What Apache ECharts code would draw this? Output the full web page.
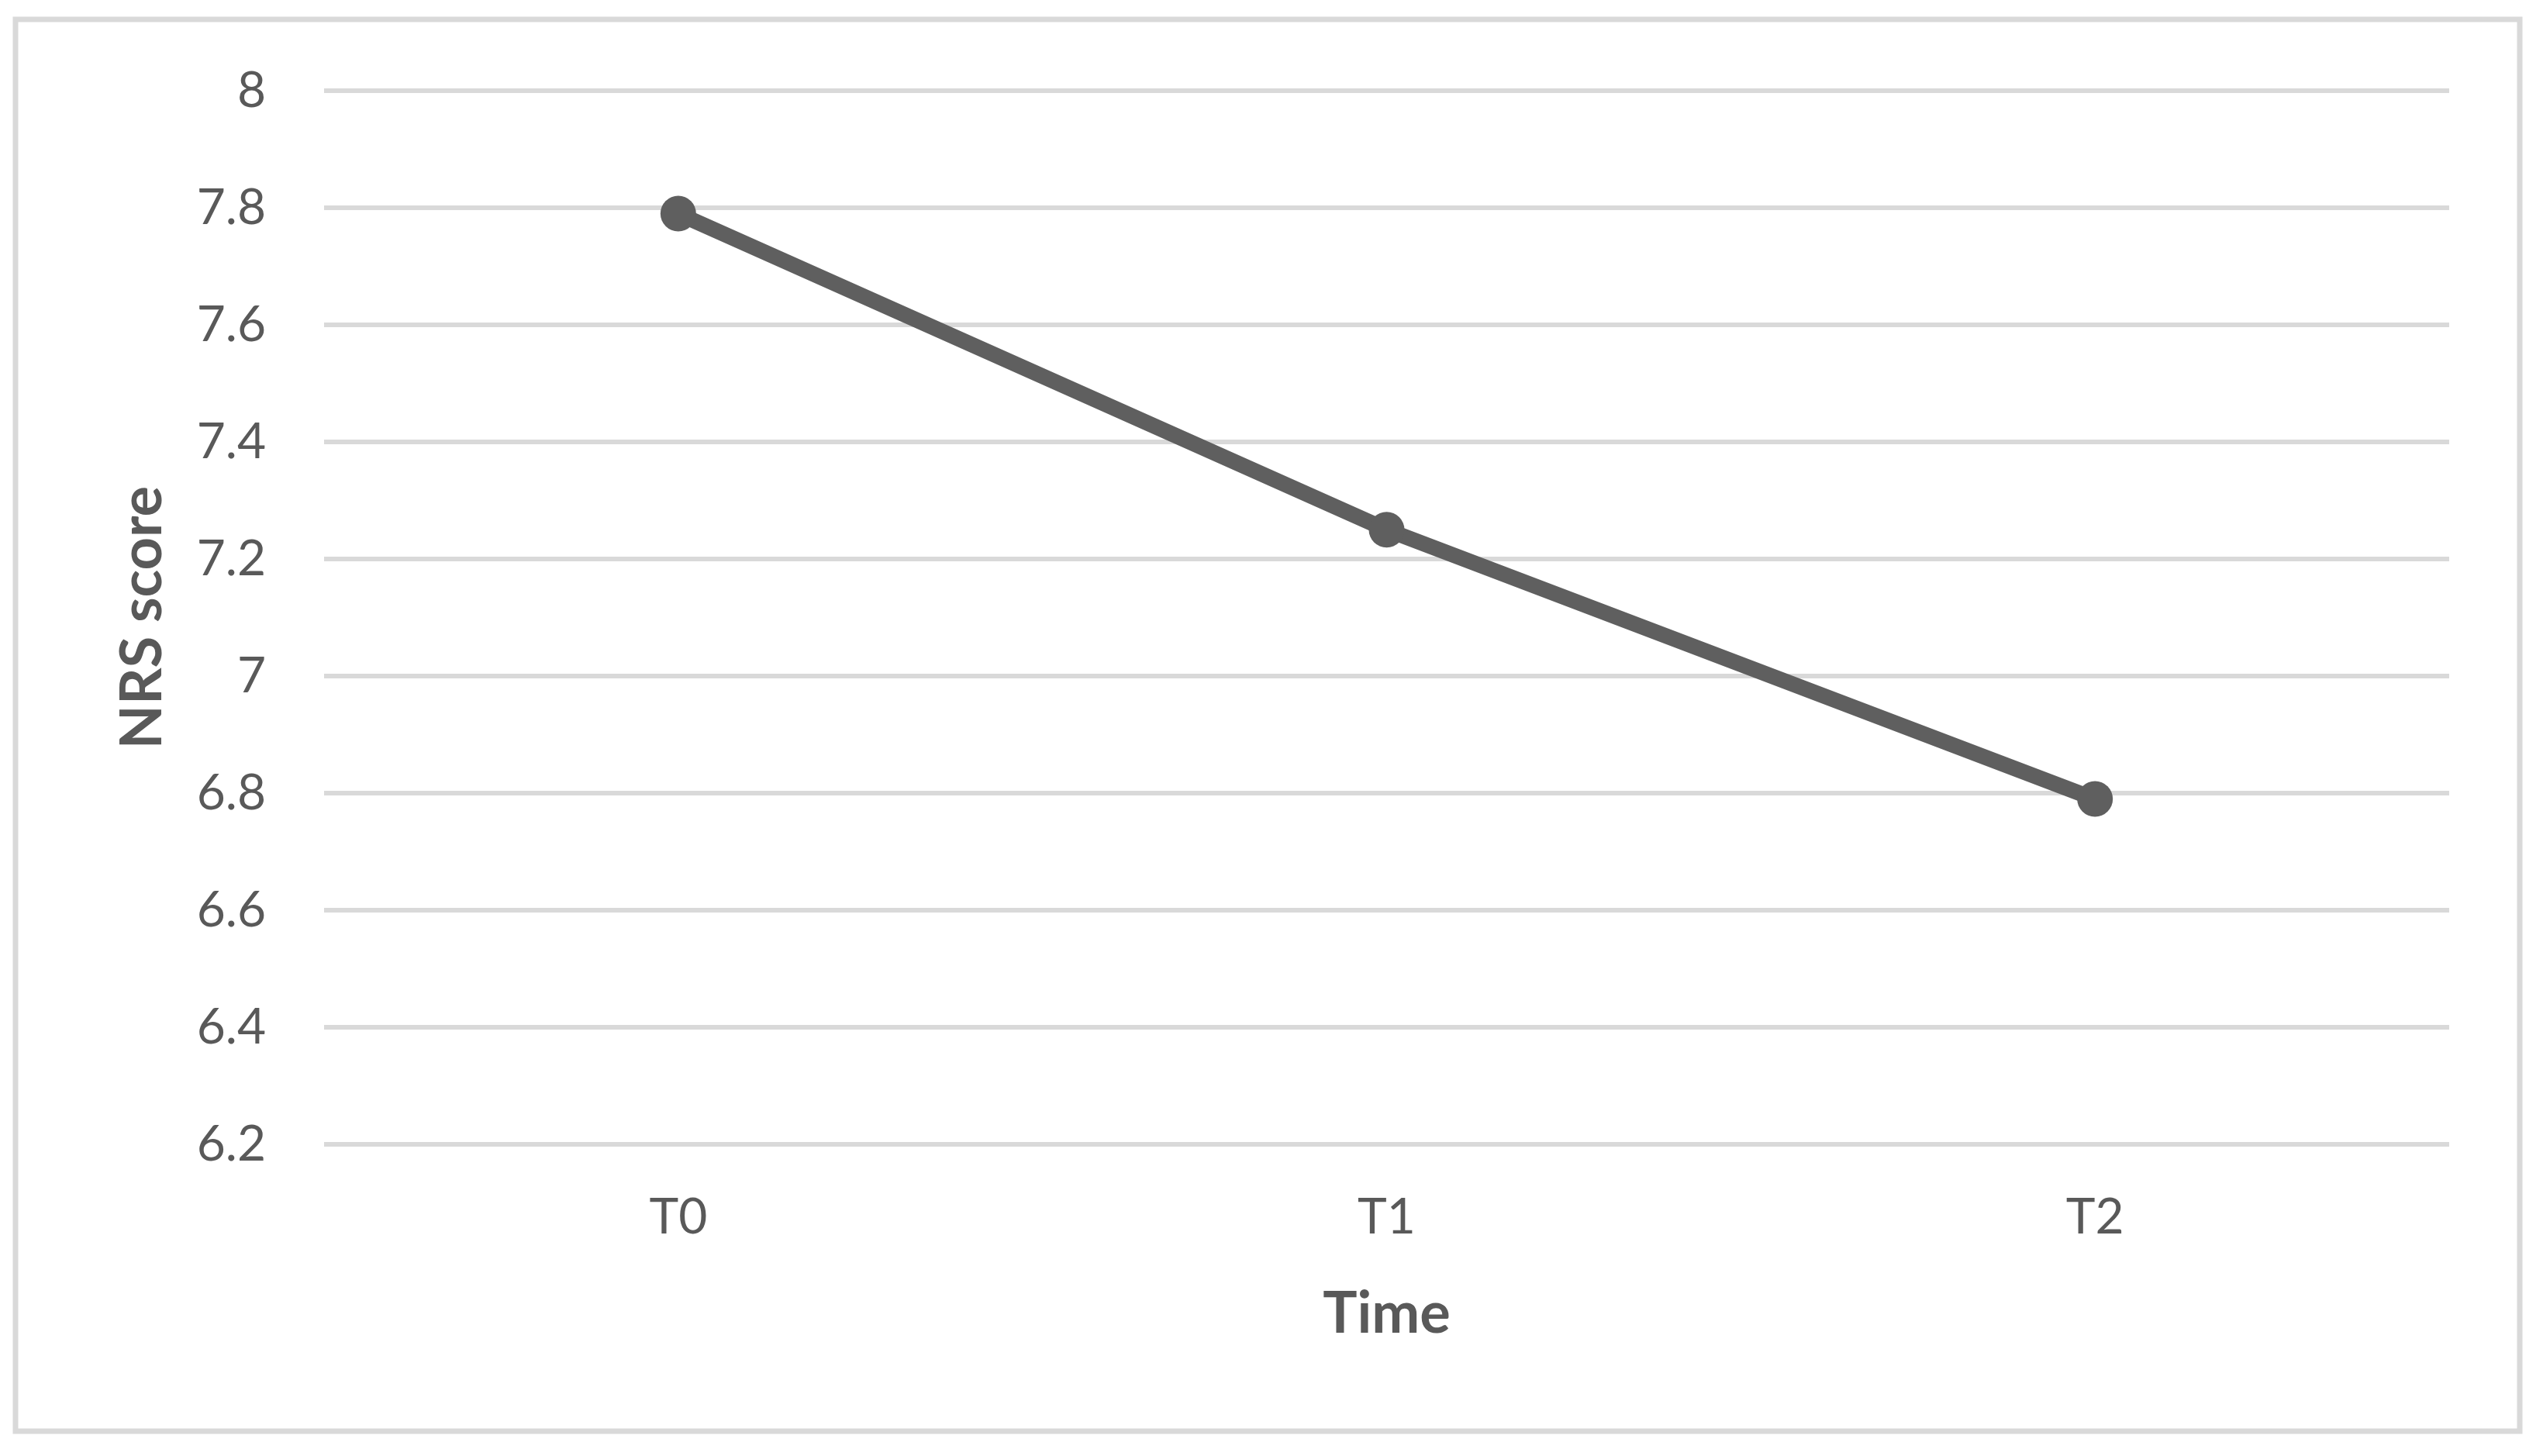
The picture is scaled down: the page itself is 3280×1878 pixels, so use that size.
<!DOCTYPE html>
<html>
<head>
<meta charset="utf-8">
<script src="https://cdn.jsdelivr.net/npm/echarts@6/dist/echarts.min.js"></script>
<style>
  html, body { margin: 0; padding: 0; background: #fff; }
  #chart { width: 3280px; height: 1878px; }
</style>
</head>
<body>
<div id="chart"></div>
<script>
// data
var categories = ['T0', 'T1', 'T2'];
var nrsScores = [7.79, 7.25, 6.79];
var yMin = 6.2, yMax = 8, yStep = 0.2;

var txtColor = '#595959',
    gridColor = '#d9d9d9',
    lineColor = '#5f5f5f';

var myChart = echarts.init(document.getElementById('chart'));
myChart.setOption({
    animation: false,
    textStyle: { fontFamily: 'Lato' },
    graphic: [{
        type: 'rect',
        shape: { x: 20, y: 25, width: 3230, height: 1821 },
        style: { fill: 'none', stroke: gridColor, lineWidth: 7 },
        silent: true
    }],
    grid: {
        left: 418,
        right: 121,
        top: 117,
        bottom: 402
    },
    xAxis: {
        type: 'category',
        data: categories,
        boundaryGap: true,
        name: 'Time',
        nameLocation: 'middle',
        nameGap: 182,
        nameTextStyle: { color: txtColor, fontSize: 74, fontWeight: 'bold' },
        axisLine: { show: false },
        axisTick: { show: false },
        axisLabel: { color: txtColor, fontSize: 64, margin: 62 }
    },
    yAxis: {
        type: 'value',
        min: yMin,
        max: yMax,
        interval: yStep,
        name: 'NRS score',
        nameLocation: 'middle',
        nameGap: 197,
        nameTextStyle: { color: txtColor, fontSize: 74, fontWeight: 'bold' },
        axisLine: { show: false },
        axisTick: { show: false },
        axisLabel: {
            color: txtColor,
            fontSize: 64,
            margin: 75,
            formatter: function (v) { return String(+v.toFixed(1)); }
        },
        splitLine: { lineStyle: { color: gridColor, width: 6 } }
    },
    series: [{
        name: 'NRS score',
        type: 'line',
        data: nrsScores,
        symbol: 'circle',
        symbolSize: 46,
        lineStyle: { color: lineColor, width: 20 },
        itemStyle: { color: lineColor }
    }]
});
</script>
</body>
</html>
